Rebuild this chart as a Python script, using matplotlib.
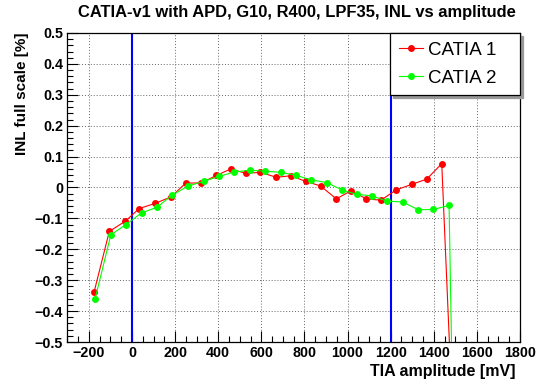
import matplotlib
matplotlib.use("Agg")
import matplotlib.pyplot as plt
from matplotlib.ticker import MultipleLocator

# CATIA 1 (red)
x1 = [-176, -105, -31, 34, 109, 182, 249, 322, 392, 458, 527, 596, 670, 737,
      805, 875, 948, 1017, 1087, 1155, 1225, 1297, 1367, 1437, 1500]
y1 = [-0.339, -0.142, -0.109, -0.068, -0.051, -0.030, 0.014, 0.015, 0.039,
      0.060, 0.046, 0.049, 0.033, 0.038, 0.020, 0.005, -0.037, -0.010, -0.037,
      -0.041, -0.008, 0.010, 0.027, 0.077, -0.95]

# CATIA 2 (green)
x2 = [-171, -98, -28, 45, 116, 186, 258, 333, 404, 474, 546, 616, 689, 759,
      829, 903, 975, 1042, 1113, 1183, 1256, 1328, 1398, 1471, 1510]
y2 = [-0.360, -0.153, -0.120, -0.082, -0.064, -0.025, 0.004, 0.020, 0.036,
      0.050, 0.056, 0.053, 0.049, 0.040, 0.025, 0.016, -0.008, -0.022, -0.027,
      -0.044, -0.047, -0.072, -0.071, -0.058, -1.6]

vlines = [0, 1200]

plt.rcParams['font.family'] = ['Liberation Sans', 'DejaVu Sans']
plt.rcParams['axes.unicode_minus'] = True

fig = plt.figure(figsize=(5.42, 3.85), dpi=100)
ax = fig.add_axes([67.3 / 542, 1 - 342 / 385, (520 - 67.3) / 542, (342 - 33) / 385])

ax.set_xlim(-300, 1800)
ax.set_ylim(-0.5, 0.5)

ax.grid(True, which='major', linestyle=(0, (1, 2)), color='0.4', linewidth=0.7)
ax.set_axisbelow(True)

for v in vlines:
    ax.axvline(v, color='#0000ff', linewidth=1.5, zorder=1.8)

ax.plot(x1, y1, color='#ff0000', linewidth=0.8, marker='o', markersize=5,
        markeredgewidth=0, label='CATIA 1', zorder=3)
ax.plot(x2, y2, color='#00ff00', linewidth=0.8, marker='o', markersize=5,
        markeredgewidth=0, label='CATIA 2', zorder=3)

ax.xaxis.set_major_locator(MultipleLocator(200))
ax.xaxis.set_minor_locator(MultipleLocator(50))
ax.yaxis.set_major_locator(MultipleLocator(0.1))
ax.yaxis.set_minor_locator(MultipleLocator(0.02))
ax.yaxis.set_major_formatter(plt.FuncFormatter(lambda v, p: '0' if abs(v) < 1e-9 else ('%.1f' % v).replace('-', '\u2212')))
ax.tick_params(which='both', direction='in', top=False, right=False, labelsize=10.3, width=0.8)
ax.tick_params(which='major', length=8)
ax.tick_params(which='minor', length=4)
ax.tick_params(axis='x', pad=3)
ax.tick_params(axis='y', pad=3)
for lab in ax.get_xticklabels() + ax.get_yticklabels():
    lab.set_fontweight('bold')
for s in ax.spines.values():
    s.set_linewidth(0.9)

ax.set_xlabel('TIA amplitude [mV]', fontsize=11.5, fontweight='bold', loc='right')
ax.xaxis.set_label_coords(0.99, -0.07)
ax.set_ylabel('INL full scale [%]', fontsize=11, fontweight='bold', loc='top')
ax.yaxis.set_label_coords(-0.085, 1.0)

fig.text(297 / 542, 1 - 13 / 385, 'CATIA-v1 with APD, G10, R400, LPF35, INL vs amplitude',
         ha='center', va='center', fontsize=11.9, fontweight='bold')

leg = ax.legend(loc='upper left', bbox_to_anchor=(0.713, 1.0, 0.287, 0.0),
                mode='expand', borderaxespad=0,
                fontsize=13.5, frameon=True, fancybox=False, edgecolor='black',
                framealpha=1, handlelength=1.3, handletextpad=0.25,
                borderpad=0.45, labelspacing=0.6,
                shadow={'color': '0.6', 'alpha': 1})
leg.get_frame().set_linewidth(0.9)
leg.set_zorder(5)

fig.savefig('out.png', dpi=100)
